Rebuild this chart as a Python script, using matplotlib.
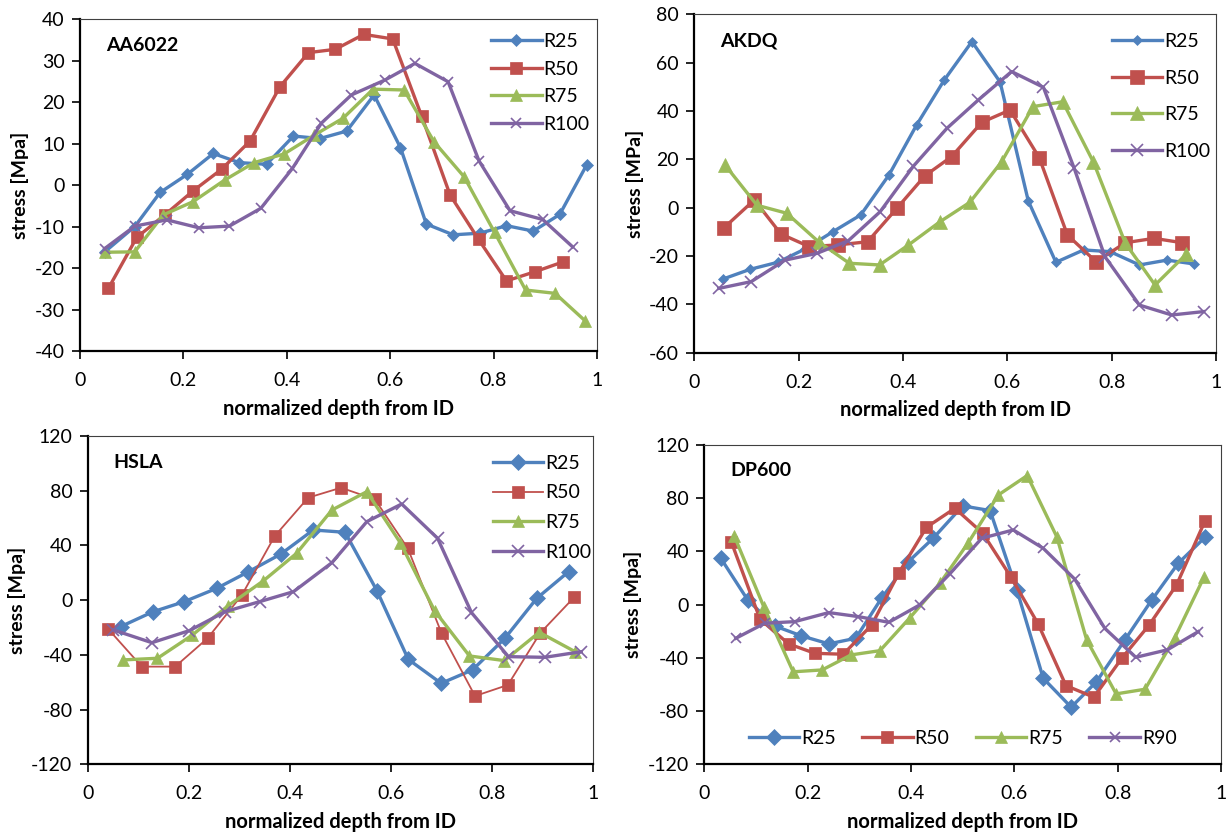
import numpy as np
import matplotlib
matplotlib.use("Agg")
from matplotlib import pyplot as plt

plt.rcParams['font.family'] = ['Lato', 'DejaVu Sans']

# ---- AA6022 ----
aa_x25 = [0.048, 0.106, 0.155, 0.208, 0.258, 0.308, 0.361, 0.413, 0.464, 0.516, 0.569, 0.620, 0.670, 0.722, 0.774, 0.825, 0.877, 0.928, 0.980]
aa_y25 = [-16.1, -10.0, -1.8, 2.6, 7.6, 5.4, 5.0, 11.8, 11.2, 13.0, 21.7, 9.0, -9.4, -12.0, -11.6, -9.8, -11.1, -7.1, 4.8]
aa_x50 = [0.055, 0.110, 0.164, 0.219, 0.274, 0.329, 0.387, 0.442, 0.494, 0.549, 0.605, 0.661, 0.716, 0.771, 0.825, 0.880, 0.935]
aa_y50 = [-24.9, -12.6, -7.2, -1.4, 3.8, 10.6, 23.7, 31.9, 32.7, 36.3, 35.2, 16.6, -2.4, -13.1, -23.1, -20.9, -18.5]
aa_x75 = [0.048, 0.106, 0.161, 0.219, 0.280, 0.337, 0.395, 0.453, 0.509, 0.567, 0.627, 0.685, 0.743, 0.802, 0.862, 0.919, 0.977]
aa_y75 = [-16.2, -16.1, -7.2, -4.0, 1.2, 5.4, 7.5, 12.0, 16.1, 23.1, 22.9, 10.4, 2.0, -11.4, -25.3, -26.1, -32.7]
aa_x100 = [0.048, 0.106, 0.168, 0.230, 0.289, 0.350, 0.411, 0.467, 0.525, 0.590, 0.648, 0.712, 0.772, 0.832, 0.895, 0.953]
aa_y100 = [-15.3, -9.9, -8.4, -10.3, -9.9, -5.6, 4.0, 14.9, 21.7, 25.3, 29.3, 24.9, 5.8, -6.2, -8.3, -14.9]

# ---- AKDQ ----
ak_x25 = [0.054, 0.107, 0.160, 0.213, 0.266, 0.319, 0.373, 0.426, 0.479, 0.532, 0.586, 0.640, 0.693, 0.746, 0.797, 0.853, 0.906, 0.958]
ak_y25 = [-29.6, -25.5, -22.6, -17.0, -9.9, -3.0, 13.5, 34.2, 52.8, 68.7, 52.0, 2.8, -22.6, -17.5, -18.2, -23.7, -21.7, -23.3]
ak_x50 = [0.056, 0.115, 0.166, 0.220, 0.276, 0.332, 0.388, 0.442, 0.493, 0.551, 0.605, 0.661, 0.715, 0.770, 0.826, 0.881, 0.935]
ak_y50 = [-8.5, 3.2, -10.9, -16.1, -15.4, -14.1, -0.3, 13.2, 21.1, 35.3, 40.4, 20.7, -11.3, -22.4, -14.5, -12.7, -14.5]
ak_x75 = [0.059, 0.120, 0.177, 0.238, 0.297, 0.355, 0.410, 0.471, 0.528, 0.589, 0.649, 0.706, 0.765, 0.826, 0.883, 0.943]
ak_y75 = [17.6, 1.0, -2.3, -14.1, -23.0, -23.7, -15.5, -5.8, 2.2, 19.0, 41.8, 43.8, 18.8, -14.7, -32.0, -19.2]
ak_x100 = [0.047, 0.109, 0.174, 0.235, 0.295, 0.356, 0.420, 0.484, 0.544, 0.608, 0.669, 0.728, 0.787, 0.853, 0.915, 0.976]
ak_y100 = [-33.4, -30.6, -21.7, -18.9, -13.7, -1.7, 17.2, 32.8, 44.5, 56.3, 49.8, 16.3, -20.3, -40.3, -44.4, -43.0]

# ---- HSLA ----
hs_x25 = [0.065, 0.129, 0.191, 0.255, 0.318, 0.382, 0.446, 0.509, 0.572, 0.634, 0.699, 0.761, 0.825, 0.888, 0.951]
hs_y25 = [-19.4, -8.5, -1.1, 8.6, 20.8, 33.7, 51.3, 49.6, 6.9, -43.3, -60.8, -51.0, -27.9, 1.3, 20.8]
hs_x50 = [0.041, 0.107, 0.173, 0.237, 0.305, 0.370, 0.436, 0.501, 0.568, 0.633, 0.700, 0.766, 0.831, 0.895, 0.962]
hs_y50 = [-21.3, -48.6, -48.6, -27.9, 3.8, 46.9, 74.9, 82.2, 73.7, 37.9, -24.3, -70.1, -62.0, -24.0, 2.1]
hs_x75 = [0.070, 0.138, 0.207, 0.278, 0.347, 0.413, 0.483, 0.552, 0.618, 0.686, 0.755, 0.824, 0.893, 0.964]
hs_y75 = [-43.7, -42.5, -25.5, -4.0, 14.0, 34.2, 65.9, 79.3, 42.1, -7.7, -40.8, -44.2, -23.5, -37.7]
hs_x100 = [0.051, 0.127, 0.201, 0.272, 0.340, 0.407, 0.483, 0.552, 0.621, 0.692, 0.759, 0.832, 0.904, 0.976]
hs_y100 = [-21.8, -31.1, -22.3, -8.4, -1.1, 6.2, 27.4, 57.4, 70.3, 45.2, -9.1, -41.3, -41.8, -37.7]

# ---- DP600 ----
dp_x25 = [0.032, 0.084, 0.136, 0.188, 0.241, 0.293, 0.343, 0.395, 0.443, 0.500, 0.553, 0.605, 0.656, 0.710, 0.759, 0.814, 0.866, 0.917, 0.969]
dp_y25 = [34.8, 3.5, -16.0, -23.5, -29.5, -25.3, 4.8, 32.3, 49.9, 74.2, 70.7, 11.0, -55.4, -77.1, -57.9, -26.5, 3.5, 31.0, 50.6]
dp_x50 = [0.052, 0.108, 0.163, 0.214, 0.269, 0.324, 0.377, 0.430, 0.485, 0.539, 0.593, 0.646, 0.700, 0.754, 0.808, 0.861, 0.914, 0.969]
dp_y50 = [47.4, -11.0, -29.5, -36.6, -37.3, -15.3, 24.1, 58.1, 72.4, 53.6, 21.0, -14.5, -60.9, -69.6, -40.3, -15.3, 14.8, 62.9]
dp_x75 = [0.058, 0.115, 0.172, 0.228, 0.284, 0.340, 0.398, 0.456, 0.511, 0.569, 0.625, 0.682, 0.740, 0.797, 0.853, 0.910, 0.967]
dp_y75 = [51.6, -1.5, -50.5, -49.1, -37.8, -34.6, -9.8, 16.0, 46.6, 82.4, 97.0, 51.1, -26.5, -67.1, -63.6, -25.3, 20.6]
dp_x90 = [0.061, 0.117, 0.175, 0.241, 0.298, 0.357, 0.417, 0.475, 0.537, 0.598, 0.656, 0.717, 0.775, 0.835, 0.896, 0.956]
dp_y90 = [-25.3, -14.0, -12.8, -6.0, -9.0, -13.3, -0.2, 23.1, 49.9, 56.1, 42.3, 19.1, -17.8, -39.6, -34.0, -20.3]

labels4 = ['R25', 'R50', 'R75', 'R100']
labels_dp = ['R25', 'R50', 'R75', 'R90']

colors = ['#4F81BD', '#C0504D', '#9BBB59', '#8064A2']
markers = ['D', 's', '^', 'x']
msizes = [6.5, 8, 9, 7]

fig = plt.figure(figsize=(12.3, 8.34), dpi=100)


def panel(rect, series, labels, name, ylim, yticks, ylabel, lws=None, mss=None):
    ax = fig.add_axes(rect)
    lws = lws or [2.4] * 4
    mss = mss or msizes
    for i, (xs, ys) in enumerate(series):
        ax.plot(xs, ys, color=colors[i], lw=lws[i], marker=markers[i], ms=mss[i],
                mew=1.2 if markers[i] == 'x' else 0.5, mec=colors[i], label=labels[i])
    ax.set_xlim(0, 1)
    ax.set_ylim(*ylim)
    ax.set_yticks(yticks)
    ax.set_xticks([0, 0.2, 0.4, 0.6, 0.8, 1])
    ax.set_xticklabels(['0', '0.2', '0.4', '0.6', '0.8', '1'])
    ax.set_yticklabels([str(t) for t in yticks])
    for s in ['left', 'bottom']:
        ax.spines[s].set_linewidth(1.6)
        ax.spines[s].set_color('black')
    for s in ['top', 'right']:
        ax.spines[s].set_linewidth(0.8)
        ax.spines[s].set_color('#404040')
    ax.tick_params(direction='out', length=6, width=1.2, labelsize=14, colors='black', pad=5)
    ax.tick_params(axis='x', pad=9)
    ax.set_ylabel(ylabel, fontsize=14, fontweight='bold', labelpad=4)
    ax.set_xlabel('normalized depth from ID', fontsize=14.5, fontweight='bold', labelpad=7)
    ax.text(0.05, 0.92, name, transform=ax.transAxes, fontsize=14, fontweight='bold', va='center')
    return ax


ax1 = panel([0.0650, 0.5791, 0.4203, 0.3981],
            [(aa_x25, aa_y25), (aa_x50, aa_y50), (aa_x75, aa_y75), (aa_x100, aa_y100)],
            labels4, 'AA6022', (-40, 40), list(range(-40, 41, 10)), 'stress [Mpa]')
ax1.legend(loc='upper left', bbox_to_anchor=(0.765, 1.005), frameon=False, fontsize=14,
           handlelength=2.6, handletextpad=0.1, labelspacing=0.55, borderpad=0.3)

ax2 = panel([0.5645, 0.5771, 0.4242, 0.4058],
            [(ak_x25, ak_y25), (ak_x50, ak_y50), (ak_x75, ak_y75), (ak_x100, ak_y100)],
            labels4, 'AKDQ', (-60, 80), list(range(-60, 81, 20)), 'stress [MPa]',
            mss=[5, 10, 10, 9])
ax2.legend(loc='upper left', bbox_to_anchor=(0.77, 0.99), frameon=False, fontsize=14,
           handlelength=2.6, handletextpad=0.1, labelspacing=1.0, borderpad=0.3)

ax3 = panel([0.0713, 0.0836, 0.4111, 0.3936],
            [(hs_x25, hs_y25), (hs_x50, hs_y50), (hs_x75, hs_y75), (hs_x100, hs_y100)],
            labels4, 'HSLA', (-120, 120), list(range(-120, 121, 40)), 'stress [Mpa]',
            lws=[2.4, 1.3, 2.4, 2.4], mss=[8, 8, 9, 8])
ax3.legend(loc='upper left', bbox_to_anchor=(0.77, 0.99), frameon=False, fontsize=14,
           handlelength=2.6, handletextpad=0.1, labelspacing=0.65, borderpad=0.3)

ax4 = panel([0.5726, 0.0836, 0.4201, 0.3829],
            [(dp_x25, dp_y25), (dp_x50, dp_y50), (dp_x75, dp_y75), (dp_x90, dp_y90)],
            labels_dp, 'DP600', (-120, 120), list(range(-120, 121, 40)), 'stress [Mpa]',
            mss=[8, 8, 9, 7])
ax4.legend(loc='lower center', bbox_to_anchor=(0.5, 0.005), frameon=False, fontsize=14, ncol=4,
           handlelength=2.6, handletextpad=0.1, columnspacing=1.35, borderpad=0.3)

fig.savefig('out.png', dpi=100)
